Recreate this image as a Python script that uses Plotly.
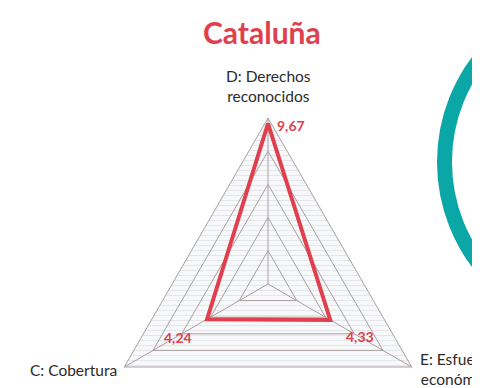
import numpy as np
import plotly.graph_objects as go

# radar data (clockwise from the top)
axis_labels = ["D: Derechos<br>reconocidos", "E: Esfuerzo<br>económico", "C: Cobertura"]
values = [9.67, 4.33, 4.24]
value_text = ["9,67", "4,33", "4,24"]
axis_angles = [90, -30, 210]
grid_levels = [2, 4, 6, 8, 10]
r_max = 10

RED = "#e0404d"
GRID = "#ab9f9f"
TEAL = "#0ba6a6"
W, H = 480, 388

theta = np.radians(axis_angles)


def to_xy(radii):
    radii = np.asarray(radii, dtype=float)
    xs = radii * np.cos(theta)
    ys = radii * np.sin(theta)
    return np.append(xs, xs[0]), np.append(ys, ys[0])


fig = go.Figure()

# hatched background of the web
bx, by = to_xy([r_max] * 3)
fig.add_trace(go.Scatter(x=bx, y=by, mode="lines", fill="toself", line=dict(width=0),
                         fillcolor="#f4f5f7",
                         fillpattern=dict(shape="-", fgcolor="#d2d4d9", bgcolor="#f7f8fa", size=5, solidity=0.2),
                         hoverinfo="skip", showlegend=False))

# grid triangles and spokes
for lvl in grid_levels:
    gx, gy = to_xy([lvl] * 3)
    fig.add_trace(go.Scatter(x=gx, y=gy, mode="lines", line=dict(color=GRID, width=1),
                             hoverinfo="skip", showlegend=False))
for t in theta:
    fig.add_trace(go.Scatter(x=[0, r_max * np.cos(t)], y=[0, r_max * np.sin(t)], mode="lines",
                             line=dict(color=GRID, width=1), hoverinfo="skip", showlegend=False))

# series
sx, sy = to_xy(values)
fig.add_trace(go.Scatter(x=sx, y=sy, mode="lines", line=dict(color=RED, width=4),
                         showlegend=False))

# value labels
value_offsets = [(7, -2, "left"), (14, -17, "left"), (-13, -18, "right")]
for (xv, yv, txt, (dx, dy, anchor)) in zip(sx[:-1], sy[:-1], value_text, value_offsets):
    fig.add_annotation(x=xv, y=yv, text=f"<b>{txt}</b>", showarrow=False, xanchor=anchor, yanchor="middle",
                       xshift=dx, yshift=dy, font=dict(family="Lato", size=14, color=RED))

# axis labels at outer vertices
label_pos = [("center", "bottom", 0, 11), ("left", "middle", 6, -2), ("right", "middle", -5, -3)]
for lab, t, (xa, ya, dx, dy) in zip(axis_labels, theta, label_pos):
    fig.add_annotation(x=r_max * np.cos(t), y=r_max * np.sin(t), text=lab, showarrow=False,
                       xanchor=xa, yanchor=ya, xshift=dx, yshift=dy, align="center",
                       font=dict(family="Lato", size=15.5, color="#2b2b2b"))

# title
fig.add_annotation(x=254 / W, y=(H - 24) / H, xref="paper", yref="paper", text="<b>Cataluña</b>",
                   showarrow=False, xanchor="center", yanchor="middle",
                   font=dict(family="Lato", size=30, color=RED))

# decorative teal ring on the right
ring_cx, ring_cy, ring_r = 604, 154, 167.5
fig.add_shape(type="circle", xref="paper", yref="paper",
              x0=(ring_cx - ring_r) / W, x1=(ring_cx + ring_r) / W,
              y0=(H - ring_cy - ring_r) / H, y1=(H - ring_cy + ring_r) / H,
              line=dict(color=TEAL, width=15))

# 16.6 px per unit, web centre at (260, 276)
px_unit = 16.6
cx, cy = 260, 276
fig.update_xaxes(range=[-cx / px_unit, (W - cx) / px_unit], visible=False)
fig.update_yaxes(range=[-(H - cy) / px_unit, cy / px_unit], visible=False)
fig.update_layout(width=W, height=H, margin=dict(l=0, r=0, t=0, b=0),
                  plot_bgcolor="white", paper_bgcolor="white")

fig.write_html("out.html")
